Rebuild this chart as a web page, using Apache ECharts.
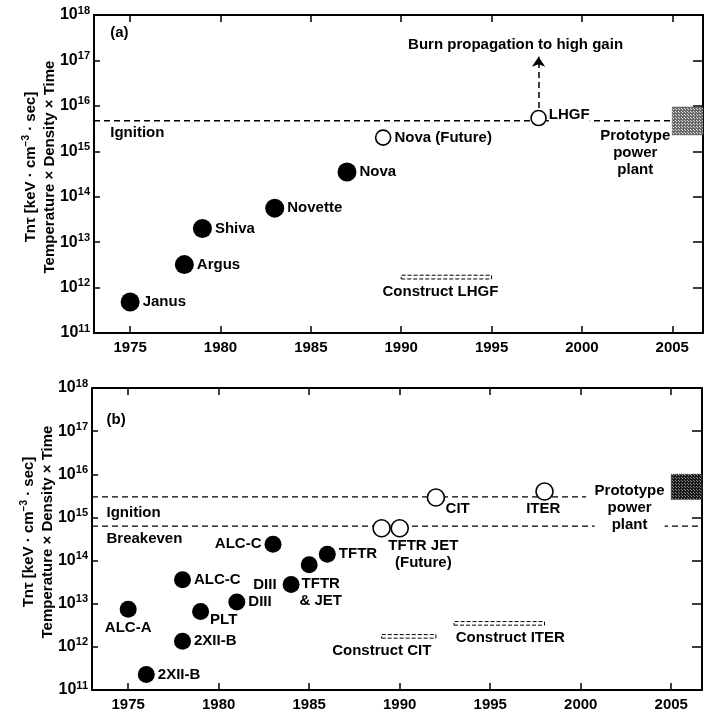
<!DOCTYPE html>
<html>
<head>
<meta charset="utf-8">
<script src="https://cdn.jsdelivr.net/npm/echarts@6/dist/echarts.min.js"></script>
<style>
html, body { margin: 0; padding: 0; background: #fff; }
#main { width: 705px; height: 712px; }
</style>
</head>
<body>
<div id="main"></div>
<script>
// axes
var yearTicks = [1975, 1980, 1985, 1990, 1995, 2000, 2005];
var yearMin = 1973, yearMax = 2006.7;
var ntMin = 1e11, ntMax = 1e18;

// (a) laser experiments
var laserNames = ['Janus', 'Argus', 'Shiva', 'Novette', 'Nova'];
var laserYears = [1975, 1978, 1979, 1983, 1987];
var laserValues = [4.8e11, 3.2e12, 2e13, 5.6e13, 3.5e14];
var laserFutureNames = ['Nova (Future)', 'LHGF'];
var laserFutureYears = [1989, 1997.6];
var laserFutureValues = [2e15, 5.4e15];
var laserIgnition = 4.7e15;
var burnArrow = [9e15, 1.2e17];          // from LHGF up to high gain
var lhgfBuild = [1990, 1995, 1.7e12];     // start, end, level
var laserPlant = [2005, 2.3e15, 9.4e15];  // start, low, high

// (b) magnetic experiments
var magNames = ['ALC-A', '2XII-B', '2XII-B', 'ALC-C', 'PLT', 'DIII', 'ALC-C', 'DIII', 'TFTR\n& JET', 'TFTR'];
var magYears = [1975, 1976, 1978, 1978, 1979, 1981, 1983, 1984, 1985, 1986];
var magValues = [7.4e12, 2.3e11, 1.35e12, 3.6e13, 6.6e12, 1.1e13, 2.4e14, 2.8e13, 8e13, 1.4e14];
var magFutureNames = ['TFTR JET\n(Future)', '', 'CIT', 'ITER'];
var magFutureYears = [1989, 1990, 1992, 1998];
var magFutureValues = [5.6e14, 5.6e14, 2.9e15, 4e15];
var magIgnition = 3e15, magIgnitionEnd = 2000.3;
var magBreakeven = 6.3e14;
var citBuild = [1989, 1992, 1.75e12];
var iterBuild = [1993, 1998, 3.5e12];
var magPlant = [2005, 2.6e15, 1e16];

var FONT = 'Liberation Sans, Arial, sans-serif';
var textStyle = { color: '#000', fontFamily: FONT, fontWeight: 'bold', fontSize: 15 };

// label placement for each point
var R = { position: 'right', distance: 3 };
var L = { position: 'left', distance: 3 };
var laserPlace = [R, R, R, R, R];
var laserFuturePlace = [R, { position: 'right', distance: 2, offset: [0, -3], backgroundColor: '#fff' }];
var magPlace = [
    { position: 'bottom', distance: 3 },
    R, R, R,
    { position: [18, 17], align: 'left', verticalAlign: 'middle' },
    R, L,
    { position: 'left', distance: 6 },
    { position: [20, 36], align: 'center', verticalAlign: 'middle', lineHeight: 17 },
    R
];
var magFuturePlace = [
    { position: [51, 35], align: 'center', verticalAlign: 'middle', lineHeight: 17 },
    R,
    { position: [19, 21], align: 'left', verticalAlign: 'middle' },
    { position: [8, 27], align: 'center', verticalAlign: 'middle' }
];

function points(years, values, names, place) {
    return years.map(function (yr, i) {
        return { name: names[i], value: [yr, values[i]], label: place[i] };
    });
}

function pattern(bg, fg, step) {
    var c = document.createElement('canvas');
    c.width = c.height = step;
    var g = c.getContext('2d');
    g.fillStyle = bg;
    g.fillRect(0, 0, step, step);
    g.fillStyle = fg;
    g.fillRect(0, 0, 1, 1);
    g.fillRect(Math.floor(step / 2), Math.floor(step / 2), 1, 1);
    return { image: c, repeat: 'repeat' };
}

function note(x, y, text, extra) {
    var lab = { show: true, position: 'right', distance: 0, formatter: text };
    for (var k in extra) lab[k] = extra[k];
    return { coord: [x, y], symbolSize: 0, label: lab };
}

function build(b, dx) {
    return [
        { coord: [b[0], b[2] / 1.1],
          label: { show: true, position: 'bottom', distance: 5, offset: [dx || 0, 0], formatter: b[3] } },
        { coord: [b[1], b[2] * 1.1] }
    ];
}

function plant(p, fill) {
    return [
        { coord: [p[0], p[1]], itemStyle: { color: fill, borderColor: '#444', borderWidth: 1, borderType: 'dotted' } },
        { coord: [yearMax, p[2]] }
    ];
}

function xAxes(grid) {
    var line = { lineStyle: { color: '#000', width: 2 } };
    return [
        { type: 'value', gridIndex: grid, min: yearMin, max: yearMax, position: 'bottom',
          axisLine: line, splitLine: { show: false },
          axisTick: { inside: true, length: 7, customValues: yearTicks, lineStyle: { width: 1.5 } },
          axisLabel: { customValues: yearTicks, margin: 7, color: '#000', fontFamily: FONT, fontWeight: 'bold', fontSize: 15,
                       formatter: function (v) { return String(Math.round(v)); } } },
        { type: 'value', gridIndex: grid, min: yearMin, max: yearMax, position: 'top',
          axisLine: line, splitLine: { show: false },
          axisTick: { inside: true, length: 7, customValues: yearTicks, lineStyle: { width: 1.5 } },
          axisLabel: { show: false } }
    ];
}

function yAxes(grid) {
    var line = { lineStyle: { color: '#000', width: 2 } };
    return [
        { type: 'log', logBase: 10, gridIndex: grid, min: ntMin, max: ntMax, position: 'left',
          axisLine: line, splitLine: { show: false },
          axisTick: { inside: true, length: 6, lineStyle: { width: 1.5 } },
          axisLabel: {
              margin: 4, color: '#000',
              formatter: function (v) { return '{b|10}{s|' + Math.round(Math.log10(v)) + '}'; },
              rich: {
                  b: { fontFamily: FONT, fontWeight: 'bold', fontSize: 16, lineHeight: 20, color: '#000' },
                  s: { fontFamily: FONT, fontWeight: 'bold', fontSize: 11, lineHeight: 11, verticalAlign: 'top', color: '#000' }
              }
          },
          name: '{t|Tnτ [keV · cm}{u|−3}{t| · sec]}\n{t|Temperature × Density × Time}',
          nameLocation: 'middle', nameRotate: 90, nameGap: 35, nameMoveOverlap: false,
          nameTextStyle: {
              padding: [0, 0, 0, 14],
              rich: {
                  t: { fontFamily: FONT, fontWeight: 'bold', fontSize: 15, lineHeight: 19, color: '#000' },
                  u: { fontFamily: FONT, fontWeight: 'bold', fontSize: 10, lineHeight: 10, verticalAlign: 'top', color: '#000' }
              }
          } },
        { type: 'log', logBase: 10, gridIndex: grid, min: ntMin, max: ntMax, position: 'right',
          axisLine: line, splitLine: { show: false },
          axisTick: { inside: true, length: 10, lineStyle: { width: 1.5 } },
          axisLabel: { show: false } }
    ];
}

var dash = { color: '#000', width: 1.3, type: [6, 4] };
var filled = { color: '#000', opacity: 1 };
var open = { color: '#fff', borderColor: '#000', borderWidth: 1.6, opacity: 1 };
var pointLabel = { show: true, formatter: '{b}', color: '#000', fontFamily: FONT, fontWeight: 'bold', fontSize: 15 };

lhgfBuild[3] = 'Construct LHGF';
citBuild[3] = 'Construct CIT';
iterBuild[3] = 'Construct ITER';

var chart = echarts.init(document.getElementById('main'));
chart.setOption({
    backgroundColor: '#fff',
    animation: false,
    textStyle: textStyle,
    grid: [
        { left: 94, top: 15, right: 2, height: 318 },
        { left: 92, top: 388, right: 3, height: 304 }
    ],
    xAxis: xAxes(0).concat(xAxes(1)),
    yAxis: yAxes(0).concat(yAxes(1)),
    series: [
        // (a)
        { type: 'line', xAxisIndex: 0, yAxisIndex: 0, z: 2, symbol: 'none',
          lineStyle: dash, silent: true,
          data: [[yearMin, laserIgnition], [laserPlant[0], laserIgnition]],
          markPoint: {
              symbol: 'circle', label: textStyle,
              data: [
                  note(1973.9, 4e17, '(a)'),
                  note(1973.9, 2.5e15, 'Ignition'),
                  note(2002.95, 9.1e14, 'Prototype\npower\nplant', { position: 'inside', align: 'center', lineHeight: 17 })
              ]
          },
          markArea: {
              silent: true,
              itemStyle: { color: '#fff', borderColor: '#000', borderWidth: 1, borderType: [4, 2] },
              label: textStyle,
              data: [plant(laserPlant, pattern('#6a6a6a', '#e0e0e0', 3)), build(lhgfBuild, -6)]
          } },
        { type: 'scatter', xAxisIndex: 0, yAxisIndex: 0, z: 3, symbolSize: 19, itemStyle: filled,
          label: pointLabel,
          data: points(laserYears, laserValues, laserNames, laserPlace) },
        { type: 'scatter', xAxisIndex: 0, yAxisIndex: 0, z: 3, symbolSize: 15, itemStyle: open,
          label: pointLabel,
          data: points(laserFutureYears, laserFutureValues, laserFutureNames, laserFuturePlace),
          markLine: {
              silent: true, symbol: ['none', 'arrow'], symbolSize: 10,
              lineStyle: { color: '#000', width: 1.5, type: [6, 4] },
              itemStyle: { color: '#000' },
              label: { show: true, position: 'end', distance: 4, formatter: 'Burn propagation to high gain',
                       padding: [0, 46, 0, 0], color: '#000', fontFamily: FONT, fontWeight: 'bold', fontSize: 15 },
              data: [[{ coord: [laserFutureYears[1], burnArrow[0]] }, { coord: [laserFutureYears[1], burnArrow[1]] }]]
          } },
        // (b)
        { type: 'line', xAxisIndex: 2, yAxisIndex: 2, z: 2, symbol: 'none',
          lineStyle: dash, silent: true,
          data: [[yearMin, magIgnition], [magIgnitionEnd, magIgnition]],
          markPoint: {
              symbol: 'circle', label: textStyle,
              data: [
                  note(1973.8, 1.8e17, '(b)'),
                  note(1973.8, 1.3e15, 'Ignition'),
                  note(1973.8, 3.2e14, 'Breakeven')
              ]
          } },
        { type: 'line', xAxisIndex: 2, yAxisIndex: 2, z: 2, symbol: 'none',
          lineStyle: dash, silent: true,
          data: [[yearMin, magBreakeven], [yearMax, magBreakeven]],
          markPoint: {
              symbol: 'circle', z: 4,
              label: textStyle,
              data: [note(2002.7, 1.7e15, 'Prototype\npower\nplant', { position: 'inside', align: 'center', lineHeight: 17, backgroundColor: '#fff' })]
          },
          markArea: {
              silent: true,
              itemStyle: { color: '#fff', borderColor: '#000', borderWidth: 1, borderType: [4, 2] },
              label: textStyle,
              data: [plant(magPlant, pattern('#1a1a1a', '#8a8a8a', 3)), build(citBuild, -27), build(iterBuild, 11)]
          } },
        { type: 'scatter', xAxisIndex: 2, yAxisIndex: 2, z: 3, symbolSize: 17, itemStyle: filled,
          label: pointLabel,
          data: points(magYears, magValues, magNames, magPlace) },
        { type: 'scatter', xAxisIndex: 2, yAxisIndex: 2, z: 3, symbolSize: 17, itemStyle: open,
          label: pointLabel,
          data: points(magFutureYears, magFutureValues, magFutureNames, magFuturePlace) }
    ]
});
</script>
</body>
</html>
